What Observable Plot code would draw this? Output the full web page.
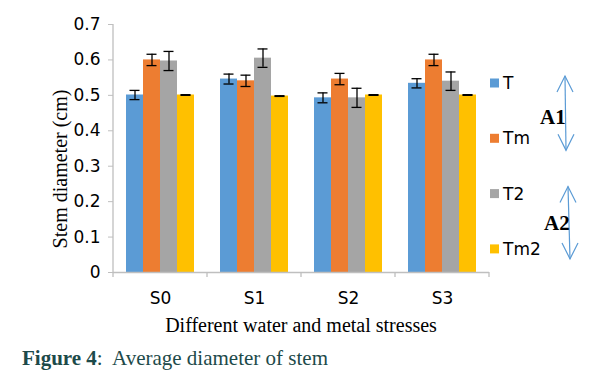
<!DOCTYPE html>
<html><head><meta charset="utf-8">
<script src="https://cdn.jsdelivr.net/npm/d3@7"></script>
<script src="https://cdn.jsdelivr.net/npm/@observablehq/plot@0.6"></script>
<style>
body{margin:0;background:#fff}
#chart{position:relative;width:605px;height:383px;overflow:hidden}
#caption{position:absolute;left:22px;top:346px;font-family:"Liberation Serif",serif;font-size:21px;line-height:24px;color:#1d4a4a;white-space:nowrap}
#caption b{font-weight:bold}
</style>
</head><body><div id="chart"><div id="caption"><b>Figure 4</b>:&nbsp; Average diameter of stem</div></div>
<script>
const categories = ["S0", "S1", "S2", "S3"];
const series = ["T", "Tm", "T2", "Tm2"];
const colors = ["#5B9BD5", "#ED7D31", "#A5A5A5", "#FFC000"];
const valT   = [0.501, 0.546, 0.493, 0.534];
const valTm  = [0.600, 0.541, 0.546, 0.600];
const valT2  = [0.597, 0.605, 0.493, 0.540];
const valTm2 = [0.501, 0.498, 0.501, 0.501];
const errT   = [0.013, 0.014, 0.014, 0.013];
const errTm  = [0.016, 0.016, 0.016, 0.016];
const errT2  = [0.027, 0.026, 0.027, 0.026];
const errTm2 = [0.001, 0.001, 0.001, 0.001];
const yTicks = [0, 0.1, 0.2, 0.3, 0.4, 0.5, 0.6, 0.7];
const yTickLabels = ["0", "0.1", "0.2", "0.3", "0.4", "0.5", "0.6", "0.7"];
const xTitle = "Different water and metal stresses";
const yTitle = "Stem diameter (cm)";
const bandNotes = ["A1", "A2"];

const vals = [valT, valTm, valT2, valTm2];
const errs = [errT, errTm, errT2, errTm2];
const data = [];
categories.forEach((c, i) => series.forEach((s, j) => {
  data.push({cat: c, series: s, value: vals[j][i], err: errs[j][i]});
}));

const sansFont = "'DejaVu Sans', sans-serif";
const axisGray = "#bfbfbf";
const plot = Plot.plot({
  width: 605,
  height: 340,
  marginLeft: 113,
  marginRight: 116,
  marginTop: 24,
  marginBottom: 68,
  style: {fontFamily: sansFont, fontSize: "17px", color: "#000", background: "#fff"},
  fx: {domain: categories, padding: 0, label: null},
  x: {domain: series, paddingInner: 0, paddingOuter: 0.76, axis: null},
  y: {domain: [0, 0.7], label: null},
  color: {domain: series, range: colors},
  marks: [
    Plot.barY(data, {fx: "cat", x: "series", y: "value", fill: "series"}),
    Plot.ruleX(data, {fx: "cat", x: "series", y1: d => d.value - d.err, y2: d => d.value + d.err, stroke: "#000", strokeWidth: 1.3}),
    Plot.tickY(data, {fx: "cat", x: "series", y: d => d.value + d.err, stroke: "#000", strokeWidth: 1.3, insetLeft: 3.5, insetRight: 3.5}),
    Plot.tickY(data, {fx: "cat", x: "series", y: d => d.value - d.err, stroke: "#000", strokeWidth: 1.3, insetLeft: 3.5, insetRight: 3.5}),
    Plot.ruleY([0], {stroke: axisGray, strokeWidth: 1.3}),
    Plot.axisY({ticks: yTicks, tickFormat: d => yTickLabels[yTicks.indexOf(d)], tickSize: 5, tickPadding: 8, stroke: axisGray, fill: "#000", fontSize: 17, label: null}),
    Plot.axisFx({anchor: "bottom", tickSize: 0, tickPadding: 19, fontSize: 17, fill: "#000", label: null})
  ]
});
document.getElementById("chart").prepend(plot);

const svg = d3.select(plot);
const fx = plot.scale("fx");
const y = plot.scale("y");
const y0 = y.apply(0);
const yTop = y.apply(0.7);
const [fxLeft, fxRight] = fx.range;

// left axis line
svg.append("line").attr("x1", fxLeft).attr("x2", fxLeft).attr("y1", y0).attr("y2", yTop)
  .attr("stroke", axisGray).attr("stroke-width", 1.3);
// category boundary ticks
const bounds = categories.map(c => fx.apply(c)).concat([fxRight]);
svg.append("g").selectAll("line").data(bounds).join("line")
  .attr("x1", d => d).attr("x2", d => d).attr("y1", y0).attr("y2", y0 + 5)
  .attr("stroke", axisGray).attr("stroke-width", 1.3);

// axis titles
svg.append("text").attr("x", (fxLeft + fxRight) / 2).attr("y", 332)
  .attr("text-anchor", "middle").style("font-family", "'Liberation Serif', serif").style("font-size", "20px")
  .attr("fill", "#000").text(xTitle);
svg.append("text").attr("transform", `translate(67,169) rotate(-90)`)
  .attr("text-anchor", "middle").style("font-family", "'Liberation Serif', serif").style("font-size", "20px")
  .attr("fill", "#000").text(yTitle);

// legend
const legX = fxRight + 1, legY0 = 83, legStep = 55.3;
const leg = svg.append("g").attr("text-anchor", "start");
series.forEach((s, i) => {
  const cy = legY0 + i * legStep;
  leg.append("rect").attr("x", legX).attr("y", cy - 4.5).attr("width", 9).attr("height", 9).attr("fill", colors[i]);
  leg.append("text").attr("x", legX + 13).attr("y", cy).attr("dy", "0.36em").attr("text-anchor", "start")
    .style("font-family", sansFont).style("font-size", "17px").attr("fill", "#000").text(s);
});

// bracket arrows A1, A2
const arrowColor = "#5B9BD5";
function dblArrow(xa, ya, xb, yb) {
  const g = svg.append("g").attr("stroke", arrowColor).attr("stroke-width", 1.2).attr("fill", "none");
  g.append("line").attr("x1", xa).attr("y1", ya).attr("x2", xb).attr("y2", yb);
  g.append("polyline").attr("points", `${xa - 8},${ya + 16} ${xa},${ya} ${xa + 8},${ya + 16}`);
  g.append("polyline").attr("points", `${xb - 8},${yb - 16} ${xb},${yb} ${xb + 8},${yb - 16}`);
}
dblArrow(565, legY0 - 7, 566, legY0 + legStep + 12);
dblArrow(568, legY0 + 2 * legStep - 7, 570, legY0 + 3 * legStep + 10);
bandNotes.forEach((t, i) => {
  svg.append("text").attr("x", i === 0 ? 540 : 544).attr("y", i === 0 ? 124 : 230).attr("text-anchor", "start")
    .style("font-family", "'Liberation Serif', serif").style("font-size", "21px").style("font-weight", "bold")
    .attr("fill", "#000").text(t);
});
</script>
</body></html>
